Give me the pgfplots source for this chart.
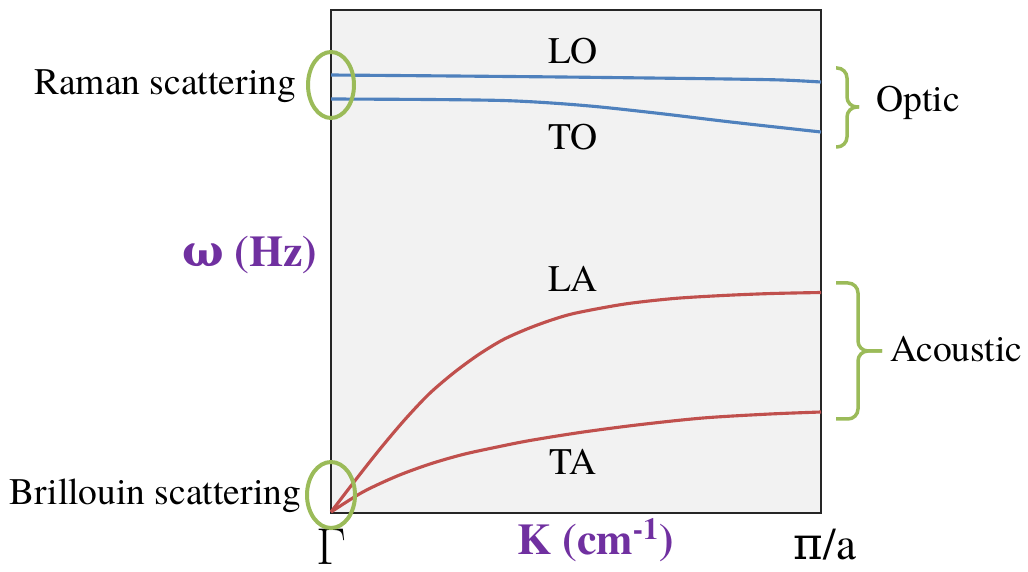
\documentclass[border=0pt]{standalone}
\usepackage{pgfplots}
\pgfplotsset{compat=1.18}
\usepackage{fontspec}
\setmainfont{texgyretermes}[Extension=.otf, UprightFont=*-regular, BoldFont=*-bold, ItalicFont=*-italic, BoldItalicFont=*-bolditalic]
\newfontfamily\greekfont{DejaVu Serif}
\definecolor{optblue}{HTML}{4F81BD}
\definecolor{acred}{HTML}{C0504D}
\definecolor{ringgreen}{HTML}{9BBB59}
\definecolor{lblpurple}{HTML}{7030A0}
\definecolor{panel}{HTML}{F2F2F2}
\begin{document}
\begin{tikzpicture}[x=0.4pt,y=-0.4pt]
\useasboundingbox (0,0) rectangle (1028,572);
\begin{axis}[
  at={(132.4pt,-205.2pt)}, anchor=south west,
  scale only axis, width=196pt, height=201.2pt,
  xmin=0, xmax=1, ymin=0, ymax=503,
  xtick=\empty, ytick=\empty,
  axis background/.style={fill=panel},
  axis line style={line width=0.8pt, black!85},
  clip=false,
]
% optical branches
\addplot[optblue, line width=1.25pt, smooth] coordinates {
  (0,438) (0.25,437) (0.47,436) (0.65,435) (0.81,434) (0.92,433) (1,431)};
\addplot[optblue, line width=1.25pt, smooth] coordinates {
  (0,414) (0.2,413.5) (0.35,412.5) (0.45,410) (0.55,406) (0.68,399) (0.816,391) (1,381)};
% acoustic branches
\addplot[acred, line width=1.25pt, smooth] coordinates {
  (0,1) (0.05,33) (0.1,64) (0.15,93) (0.2,119) (0.25,140) (0.3,158)
  (0.35,173) (0.4,184) (0.45,193) (0.5,200) (0.6,209) (0.7,214.5)
  (0.8,217.5) (0.9,219.5) (1,220.5)};
\addplot[acred, line width=1.25pt, smooth] coordinates {
  (0,1) (0.065,21) (0.135,37) (0.202,49) (0.269,58.5) (0.339,66)
  (0.406,72.5) (0.508,80.5) (0.624,88) (0.759,95) (0.896,99) (1,101)};
\end{axis}

% branch names
\begin{scope}[every node/.style={font=\fontsize{15}{18}\selectfont, inner sep=0pt}]
\node[anchor=base] at (573,64) {LO};
\node[anchor=base] at (573,150) {TO};
\node[anchor=base] at (573,292) {LA};
\node[anchor=base] at (573,475) {TA};
\node[anchor=base east] at (297,95) {Raman scattering};
\node[anchor=base east] at (302,505) {Brillouin scattering};
\node[anchor=base west] at (876,112) {Optic};
\node[anchor=base west] at (890,362) {Acoustic};
\end{scope}

% axis labels
\node[anchor=base east, inner sep=0pt, text=lblpurple, font=\fontsize{17.5}{20}\selectfont\bfseries] at (318,267) {{\greekfont\bfseries ω} (Hz)};
\node[anchor=base west, inner sep=0pt, text=lblpurple, font=\fontsize{17.5}{20}\selectfont\bfseries] at (517,555) {K (cm\textsuperscript{-1})};
\node[anchor=base, inner sep=0pt, font=\fontsize{21}{24}\selectfont] at (331,565) {$\Gamma$};
\node[anchor=base, inner sep=0pt, font=\fontsize{18}{21}\selectfont] at (825,560) {{\greekfont π}/a};

% scattering regions
\draw[ringgreen, line width=1.6pt] (331,85) ellipse [x radius=23, y radius=33];
\draw[ringgreen, line width=1.6pt] (331,495) ellipse [x radius=24, y radius=33];

% braces
\begin{scope}[ringgreen, line width=1.4pt, rounded corners=4pt]
\draw (836,68) -- (847,68) -- (847,107) -- (859,107);
\draw (836,147) -- (847,147) -- (847,107) -- (859,107);
\draw (836,283) -- (858,283) -- (858,351) -- (882,351);
\draw (836,419) -- (858,419) -- (858,351) -- (882,351);
\end{scope}
\end{tikzpicture}
\end{document}
